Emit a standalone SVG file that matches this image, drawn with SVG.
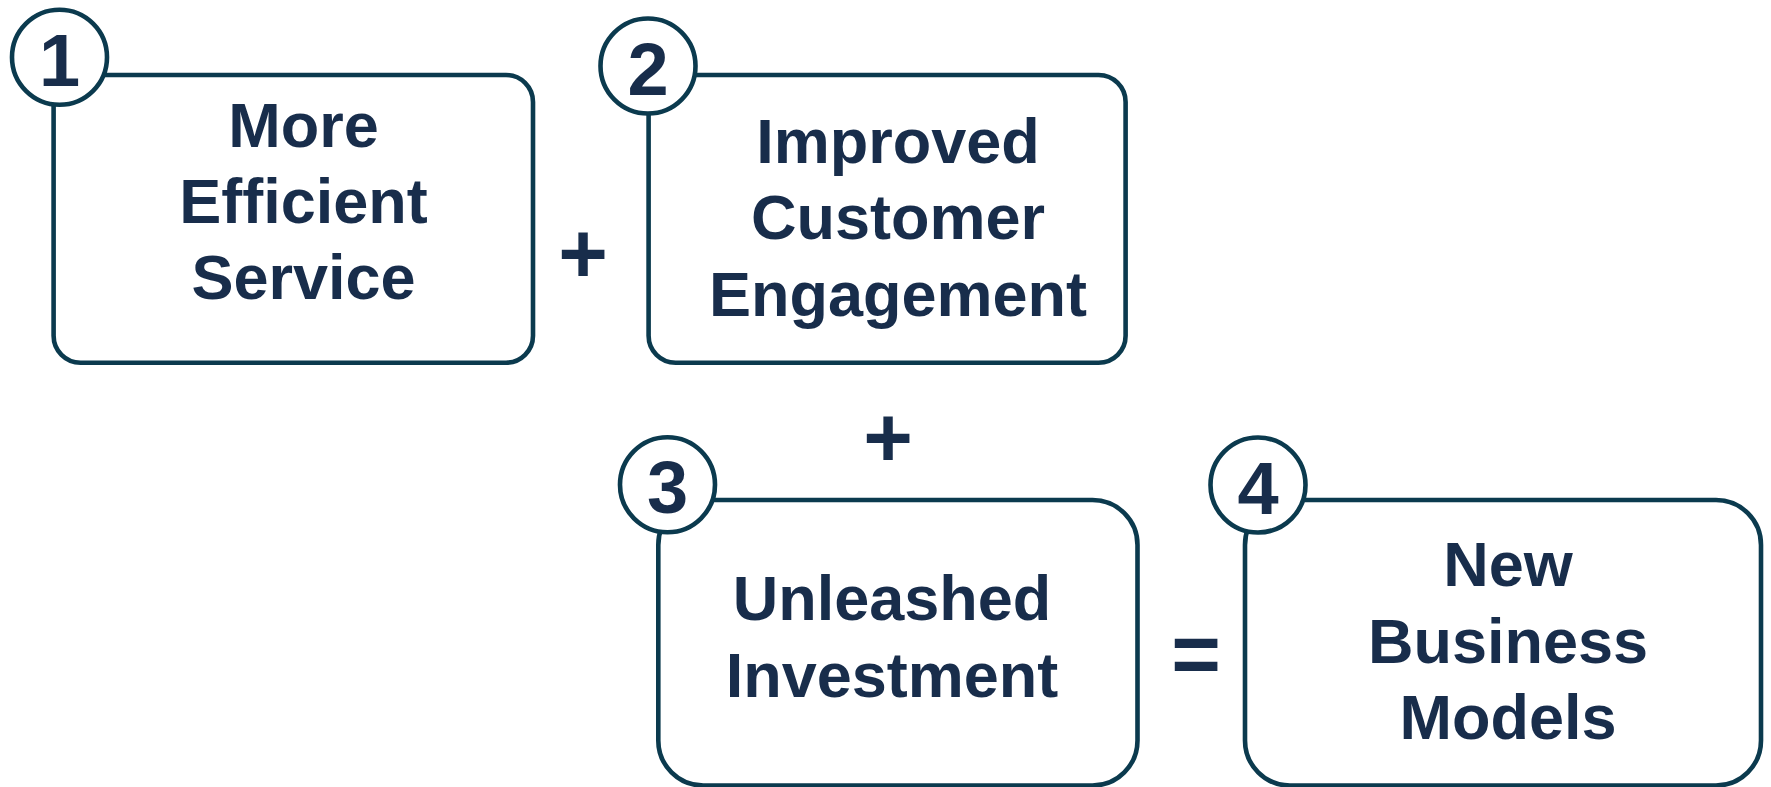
<svg xmlns="http://www.w3.org/2000/svg" width="1771" height="787" viewBox="0 0 1771 787">
  <style>
    .box { fill: #ffffff; stroke: #0b3a4e; stroke-width: 4.6; }
    .badge { fill: #ffffff; stroke: #0b3a4e; stroke-width: 4.6; }
    .label { font-family: "Liberation Sans", Arial, sans-serif; font-weight: bold; font-size: 63px; fill: #182d4b; text-anchor: middle; }
    .num { font-family: "Liberation Sans", Arial, sans-serif; font-weight: bold; font-size: 74px; fill: #182d4b; text-anchor: middle; }
    .op { font-family: "Liberation Sans", Arial, sans-serif; font-weight: bold; font-size: 85px; fill: #182d4b; text-anchor: middle; }
  </style>
  <rect width="1771" height="787" fill="#ffffff"/>

  <g id="operators">
    <text class="op" x="583" y="282.5">+</text>
    <text class="op" x="888" y="467">+</text>
    <text class="op" x="1196" y="682.5">=</text>
  </g>

  <g id="node-1">
    <rect class="box" x="53.6" y="75" width="479.4" height="287.7" rx="27"/>
    <circle class="badge" cx="59.5" cy="57.3" r="47.5"/>
    <text class="num" x="59.5" y="85.8">1</text>
    <text class="label" x="303.5" y="146.7">More</text>
    <text class="label" x="303.5" y="222.7">Efficient</text>
    <text class="label" x="303.5" y="299.3">Service</text>
  </g>

  <g id="node-2">
    <rect class="box" x="648.6" y="75" width="477" height="287.7" rx="27"/>
    <circle class="badge" cx="648" cy="66" r="47.5"/>
    <text class="num" x="648" y="94.5">2</text>
    <text class="label" x="898" y="163.3">Improved</text>
    <text class="label" x="898" y="239.3">Customer</text>
    <text class="label" x="898" y="316">Engagement</text>
  </g>

  <g id="node-3">
    <rect class="box" x="658.3" y="500" width="479.2" height="285.5" rx="45"/>
    <circle class="badge" cx="667.5" cy="484.7" r="47.5"/>
    <text class="num" x="667.5" y="513">3</text>
    <text class="label" x="892" y="620">Unleashed</text>
    <text class="label" x="892" y="696.7">Investment</text>
  </g>

  <g id="node-4">
    <rect class="box" x="1245" y="500" width="516" height="285.5" rx="45"/>
    <circle class="badge" cx="1258" cy="485" r="47.5"/>
    <text class="num" x="1258" y="513.5">4</text>
    <text class="label" x="1508" y="585.7">New</text>
    <text class="label" x="1508" y="662.7">Business</text>
    <text class="label" x="1508" y="739.3">Models</text>
  </g>

  <g id="connectors"></g>
</svg>
